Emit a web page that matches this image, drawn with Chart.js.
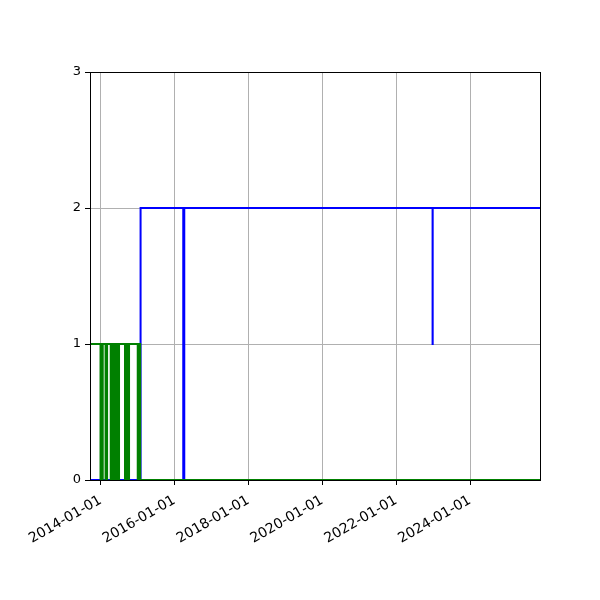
<!DOCTYPE html>
<html>
<head>
<meta charset="utf-8">
<script src="https://cdn.jsdelivr.net/npm/chart.js@4/dist/chart.umd.min.js"></script>
<style>
  html, body { margin: 0; padding: 0; background: #ffffff; }
  #wrap { width: 600px; height: 600px; }
</style>
</head>
<body>
<div id="wrap"><canvas id="chart1" width="600" height="600"></canvas></div>
<script>
// step series: date where the value changes, and the new value
const greenDates = [
    "2013-09-01", "2013-12-31", "2014-01-02", "2014-01-20", "2014-01-22",
    "2014-02-19", "2014-02-24", "2014-03-01", "2014-03-06",
    "2014-04-11", "2014-04-16", "2014-04-21", "2014-04-26", "2014-05-01", "2014-05-06",
    "2014-05-11", "2014-05-16", "2014-05-21", "2014-05-26", "2014-05-31", "2014-06-05",
    "2014-06-10", "2014-06-15", "2014-06-20", "2014-06-25", "2014-06-28", "2014-07-02",
    "2014-08-30", "2014-09-04", "2014-09-09", "2014-09-14", "2014-09-19", "2014-09-24",
    "2014-09-29", "2014-10-04", "2014-10-06", "2014-10-09",
    "2015-01-03", "2015-01-08", "2015-01-13", "2015-01-18", "2015-01-22", "2015-01-24",
    "2015-01-27", "2025-12-31"
];
const greenValues = [
    1, 0, 1, 0, 1,
    0, 1, 0, 1,
    0, 1, 0, 1, 0, 1,
    0, 1, 0, 1, 0, 1,
    0, 1, 0, 1, 0, 1,
    0, 1, 0, 1, 0, 1,
    0, 1, 0, 1,
    0, 1, 0, 1, 0, 1,
    0, 0
];

const blueDates = ["2013-09-01", "2015-01-31", "2016-03-28", "2016-04-07", "2022-12-27", "2022-12-28", "2025-12-31"];
const blueValues = [0, 2, 0, 2, 1, 2, 2];

const xTickLabels = ["2014-01-01", "2016-01-01", "2018-01-01", "2020-01-01", "2022-01-01", "2024-01-01"];
const yTicks = [0, 1, 2, 3];
const xStart = "2013-09-18";
const xEnd = "2025-11-23";

function toPoints(dates, values) {
    return dates.map((d, i) => ({ x: Date.parse(d), y: values[i] }));
}

// black box around the plot area, drawn over the lines like axes spines
const frame = {
    id: 'frame',
    afterDatasetsDraw(chart) {
        const a = chart.chartArea;
        const c = chart.ctx;
        c.save();
        c.strokeStyle = '#000000';
        c.lineWidth = 1;
        c.strokeRect(Math.round(a.left) + 0.5, Math.round(a.top) + 0.5,
                     Math.round(a.right - a.left), Math.round(a.bottom - a.top));
        c.restore();
    }
};

const ctx = document.getElementById('chart1').getContext('2d');
const myChart = new Chart(ctx, {
    type: 'line',
    data: {
        datasets: [
            {
                label: 'green',
                data: toPoints(greenDates, greenValues),
                borderColor: '#008000',
                borderWidth: 2,
                stepped: 'before',
                pointRadius: 0,
                fill: false
            },
            {
                label: 'blue',
                data: toPoints(blueDates, blueValues),
                borderColor: '#0000ff',
                borderWidth: 2,
                stepped: 'before',
                pointRadius: 0,
                fill: false
            }
        ]
    },
    plugins: [frame],
    options: {
        responsive: false,
        animation: false,
        devicePixelRatio: 1,
        layout: { padding: { left: 0, top: 72, right: 60, bottom: 0 } },
        plugins: {
            legend: { display: false },
            tooltip: { enabled: false }
        },
        scales: {
            x: {
                type: 'linear',
                min: Date.parse(xStart),
                max: Date.parse(xEnd),
                afterBuildTicks: (scale) => {
                    scale.ticks = xTickLabels.map(d => ({ value: Date.parse(d) }));
                },
                afterFit: (scale) => { scale.height = 120; },
                border: { display: false },
                grid: { color: '#b0b0b0', lineWidth: 1, tickLength: 5, tickColor: '#000000' },
                ticks: {
                    autoSkip: false,
                    minRotation: 30,
                    maxRotation: 30,
                    padding: 7,
                    color: '#000000',
                    font: { family: 'DejaVu Sans', size: 14 },
                    callback: (v) => new Date(v).toISOString().slice(0, 10)
                }
            },
            y: {
                min: 0,
                max: 3,
                afterBuildTicks: (scale) => {
                    scale.ticks = yTicks.map(v => ({ value: v }));
                },
                afterFit: (scale) => { scale.width = 90; },
                border: { display: false },
                grid: { color: '#b0b0b0', lineWidth: 1, tickLength: 5, tickColor: '#000000' },
                ticks: {
                    padding: 4,
                    color: '#000000',
                    font: { family: 'DejaVu Sans', size: 13 }
                }
            }
        }
    }
});
</script>
</body>
</html>
